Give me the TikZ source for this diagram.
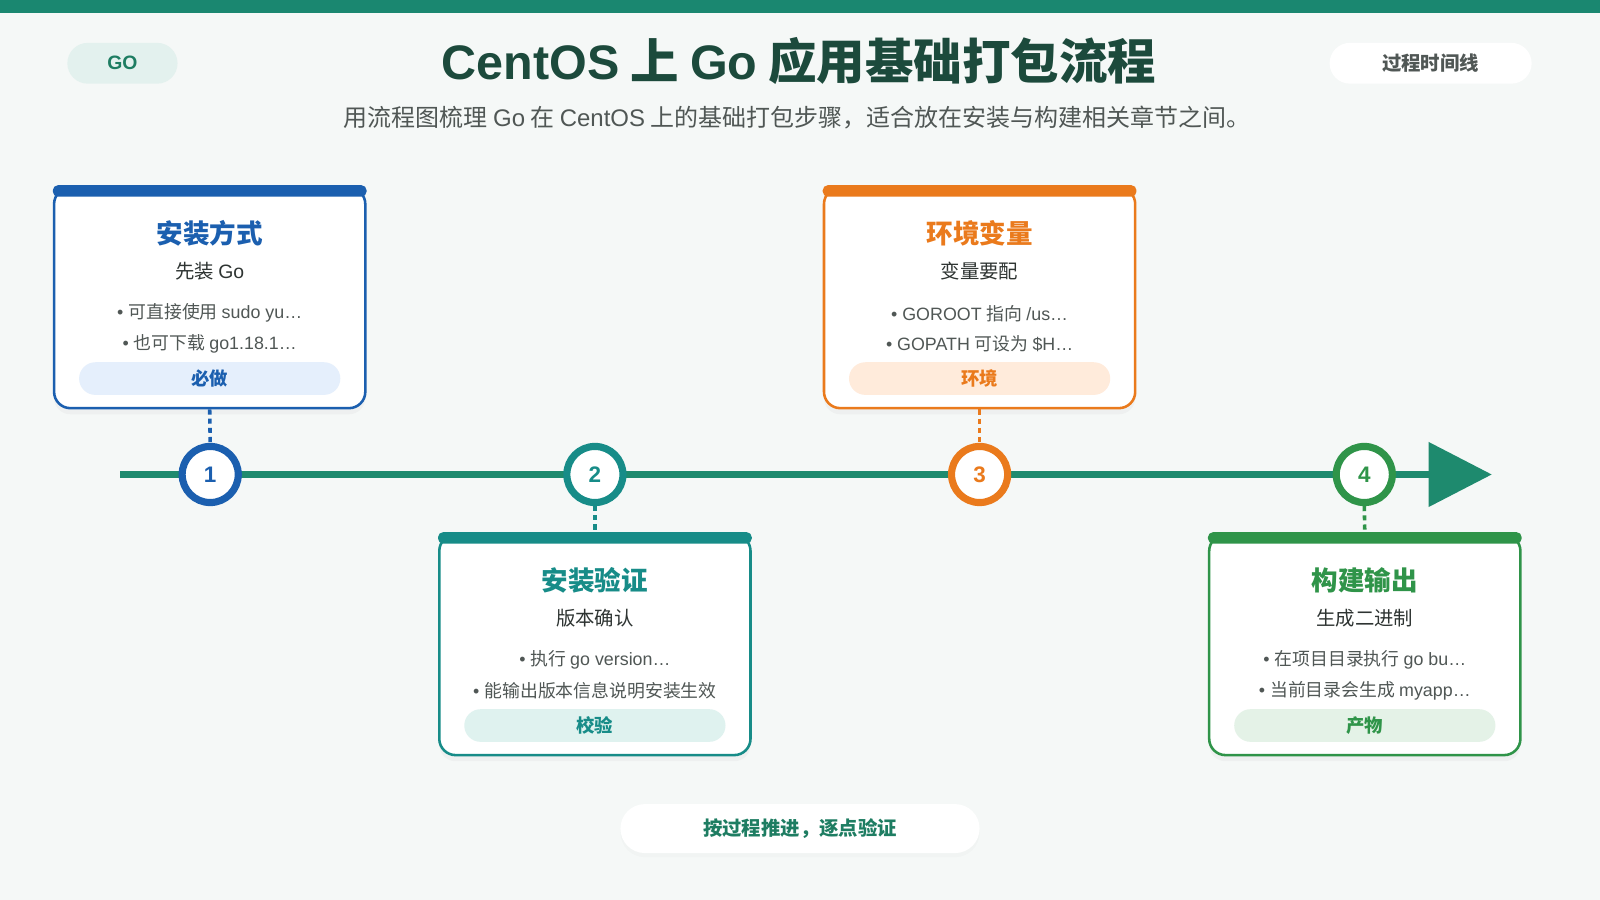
\documentclass[tikz,border=0pt]{standalone}
\usepackage{fontspec}
\setmainfont{Noto Sans CJK SC}
\newfontfamily\lf{Liberation Sans}
\usetikzlibrary{arrows.meta,shadows}

\definecolor{bgC}{HTML}{F5F8F7}
\definecolor{barC}{HTML}{1A8770}
\definecolor{lineC}{HTML}{1E8A6E}
\definecolor{blueC}{HTML}{1B5FAF}
\definecolor{tealC}{HTML}{178C88}
\definecolor{orangeC}{HTML}{EA7A1C}
\definecolor{greenC}{HTML}{2F9449}
\definecolor{blueL}{HTML}{E5EFFC}
\definecolor{tealL}{HTML}{DFF2EF}
\definecolor{orangeL}{HTML}{FFEBDB}
\definecolor{greenL}{HTML}{E4F2E7}
\definecolor{titleC}{HTML}{1C4A3C}
\definecolor{greyC}{HTML}{505755}
\definecolor{darkC}{HTML}{2E3432}
\definecolor{goC}{HTML}{1E7D62}
\definecolor{goL}{HTML}{E3F1EE}

\begin{document}
\begin{tikzpicture}[x=1pt,y=-1pt,
  card/.style={rounded corners=16, line width=2.5, fill=white, minimum width=305, minimum height=216, inner sep=0,
    drop shadow={opacity=0.06, shadow xshift=0pt, shadow yshift=-6pt}},
  cardtitle/.style={font=\bfseries\fontsize{26}{30}\selectfont},
  cardsub/.style={text=darkC, font=\fontsize{19}{22}\selectfont},
  bullet/.style={text=greyC, font=\fontsize{17.5}{20}\selectfont},
  tag/.style={rounded corners=16, minimum width=256, minimum height=32, inner sep=0, font=\bfseries\fontsize{18}{20}\selectfont},
  pill/.style={rounded corners=20, minimum height=40, inner sep=0, font=\bfseries\fontsize{19}{22}\selectfont},
  stepnum/.style={circle, line width=7, fill=white, minimum size=55, inner sep=0, font=\lf\bfseries\fontsize{22}{24}\selectfont},
  linkdash/.style={line width=3.5, dash pattern=on 5pt off 4pt}]

% background and top band
\fill[bgC] (0,0) rectangle (1568,882);
\fill[barC] (0,0) rectangle (1568,13);

% header
\node [pill, fill=goL, text=goC, minimum width=108] (go) at (120,62) {\lf GO};
\node [pill, fill=white, text=greyC, minimum width=198] (tag0) at (1402,62) {过程时间线};
\node [text=titleC, font=\bfseries\fontsize{47.5}{52}\selectfont] (title) at (783,60) {{\lf CentOS} 上 {\lf Go} 应用基础打包流程};
\node [text=greyC, font=\fontsize{23.5}{26}\selectfont] (sub) at (781,115) {用流程图梳理 {\lf Go} 在 {\lf CentOS} 上的基础打包步骤，适合放在安装与构建相关章节之间。};

% timeline
\coordinate (tl0) at (118,465);
\coordinate (tl1) at (1462,465);
\draw [line width=7, color=lineC, -{Triangle[length=62pt,width=62pt]}] (tl0) -- (tl1);

% step 1
\node [card, draw=blueC] (card1) at (205.5,292) {};
\fill [blueC, rounded corners=5] ([yshift=1.25pt]card1.north west) rectangle ([yshift=-10pt]card1.north east);
\node [cardtitle, text=blueC] (t1) at (205.5,229) {安装方式};
\node [cardsub] (s1) at (205.5,266) {先装 {\lf Go}};
\node [bullet] (b1a) at (205.5,307) {\lf • \rmfamily 可直接使用 \lf sudo yu…};
\node [bullet] (b1b) at (205.5,337) {\lf • \rmfamily 也可下载 \lf go1.18.1…};
\node [tag, fill=blueL, text=blueC] (g1) at (205.5,371) {必做};

% step 2
\node [card, draw=tealC] (card2) at (583,632) {};
\fill [tealC, rounded corners=5] ([yshift=1.25pt]card2.north west) rectangle ([yshift=-10pt]card2.north east);
\node [cardtitle, text=tealC] (t2) at (583,569) {安装验证};
\node [cardsub] (s2) at (583,606) {版本确认};
\node [bullet] (b2a) at (583,647) {\lf • \rmfamily 执行 \lf go version…};
\node [bullet] (b2b) at (583,677) {\lf • \rmfamily 能输出版本信息说明安装生效};
\node [tag, fill=tealL, text=tealC] (g2) at (583,711) {校验};

% step 3
\node [card, draw=orangeC] (card3) at (960,292) {};
\fill [orangeC, rounded corners=5] ([yshift=1.25pt]card3.north west) rectangle ([yshift=-10pt]card3.north east);
\node [cardtitle, text=orangeC] (t3) at (960,229) {环境变量};
\node [cardsub] (s3) at (960,266) {变量要配};
\node [bullet] (b3a) at (960,307) {\lf • GOROOT \rmfamily 指向 \lf /us…};
\node [bullet] (b3b) at (960,337) {\lf • GOPATH \rmfamily 可设为 \lf \$H…};
\node [tag, fill=orangeL, text=orangeC] (g3) at (960,371) {环境};

% step 4
\node [card, draw=greenC] (card4) at (1337.5,632) {};
\fill [greenC, rounded corners=5] ([yshift=1.25pt]card4.north west) rectangle ([yshift=-10pt]card4.north east);
\node [cardtitle, text=greenC] (t4) at (1337.5,569) {构建输出};
\node [cardsub] (s4) at (1337.5,606) {生成二进制};
\node [bullet] (b4a) at (1337.5,647) {\lf • \rmfamily 在项目目录执行 \lf go bu…};
\node [bullet] (b4b) at (1337.5,677) {\lf • \rmfamily 当前目录会生成 \lf myapp…};
\node [tag, fill=greenL, text=greenC] (g4) at (1337.5,711) {产物};

% markers on the line
\node [stepnum, draw=blueC, text=blueC] (n1) at (206,465) {1};
\node [stepnum, draw=tealC, text=tealC] (n2) at (583,465) {2};
\node [stepnum, draw=orangeC, text=orangeC] (n3) at (960,465) {3};
\node [stepnum, draw=greenC, text=greenC] (n4) at (1337,465) {4};

\draw [linkdash, blueC] (card1.south) -- (n1.north);
\draw [linkdash, tealC] (n2.south) -- (card2.north);
\draw [linkdash, orangeC] (card3.south) -- (n3.north);
\draw [linkdash, greenC] (n4.south) -- (card4.north);

% footer
\node [pill, fill=white, text=goC, minimum width=352, minimum height=48, rounded corners=24,
  drop shadow={opacity=0.03, shadow xshift=0pt, shadow yshift=-4pt}] (motto) at (784,812) {按过程推进，逐点验证};
\end{tikzpicture}
\end{document}
